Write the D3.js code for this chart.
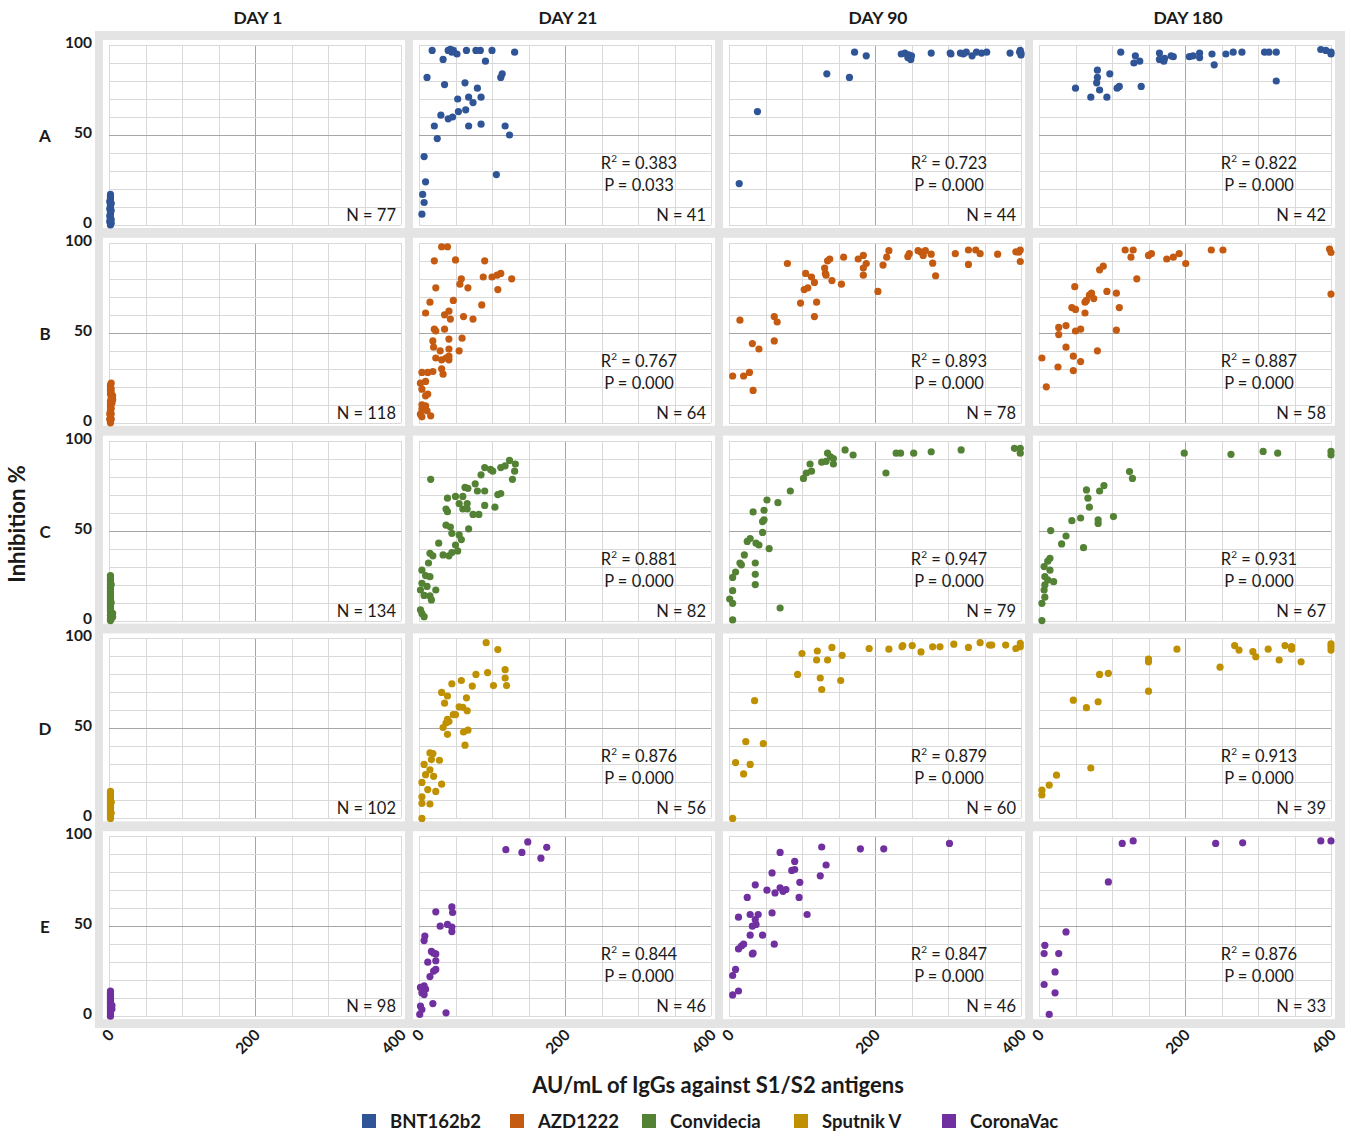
<!DOCTYPE html>
<html>
<head>
<meta charset="utf-8">
<script src="https://cdn.jsdelivr.net/npm/d3@7"></script>
<style>
  body { margin: 0; background: #fff; }
  svg text { font-family: Lato, "Open Sans", sans-serif; fill: #1a1a1a; }
  .grid line { stroke: #d9d9d9; stroke-width: 1; shape-rendering: crispEdges; }
  .grid line.major { stroke: #a6a6a6; }
  .grid path { display: none; }
  .bold { font-weight: bold; }
</style>
</head>
<body>
<svg id="chart" width="1357" height="1134"></svg>
<script>
// rows / columns
const days = ["DAY 1", "DAY 21", "DAY 90", "DAY 180"];
const rowLabels = ["A", "B", "C", "D", "E"];
const vaccines = ["BNT162b2", "AZD1222", "Convidecia", "Sputnik V", "CoronaVac"];
const colors = ["#2f5597", "#c55a11", "#548235", "#bf9000", "#7030a0"];
const xTicks = [0, 200, 400];
const yTicks = [0, 50, 100];

const nCounts = [[77, 41, 44, 42], [118, 64, 78, 58], [134, 82, 79, 67], [102, 56, 60, 39], [98, 46, 46, 33]];
const r2Values = [[null, "0.383", "0.723", "0.822"], [null, "0.767", "0.893", "0.887"], [null, "0.881", "0.947", "0.931"], [null, "0.876", "0.879", "0.913"], [null, "0.844", "0.847", "0.876"]];
const pValues = [[null, "0.033", "0.000", "0.000"], [null, "0.000", "0.000", "0.000"], [null, "0.000", "0.000", "0.000"], [null, "0.000", "0.000", "0.000"], [null, "0.000", "0.000", "0.000"]];

// BNT162b2
const bntD1 = [[2,0],[2,1],[1,2],[2,3],[2,4],[1,5],[2,6],[2,7],[2,8],[1,9],[2,10],[2,11],[2,12],[1,13],[2,14],[2,15],[2,16],[2,17],[3,1],[3,3],[3,8],[3,12]];
const bntD21 = [[18,97],[40,97],[43,97.6],[47,97],[52,95],[65,97],[78,97],[84,97],[100,97],[131,96],[33,92],[91,91],[11,82],[112,82],[114,84],[35,78],[63,79],[80,76],[53,70],[68,71],[74,68],[85,71],[54,63],[64,64],[30,61],[40,59],[46,60],[21,55],[68,55],[85,56],[118,55],[124,50],[25,48],[7,38],[106,28],[9,24],[5,17],[7,12.5],[4,6],[41,97],[45,96]];
const bntD90 = [[14,23],[39,63],[134,84],[165,82],[172,96],[188,94],[236,95],[241,95.5],[245,93],[249,92],[250,94],[277,95.5],[303,95.5],[304,95],[317,95.5],[321,95],[325,96],[333,94],[339,96],[346,95.5],[353,96],[385,95.5],[399,97],[400,95.5],[400,94.5],[398,96],[246,94.5]];
const bntD180 = [[50,76],[71,71],[80,86],[80,82],[79,79],[83,75],[93,71],[97,84],[107,76],[110,77],[112,96],[130,90],[132,94],[138,91],[140,77],[165,95.5],[165,92],[171,91],[172,92.6],[181,94],[184,93.5],[206,93.5],[211,94],[220,95.5],[220,93],[237,95],[240,89],[256,95],[266,96],[278,96],[309,96],[315,96],[325,96],[325,80],[386,97.5],[393,97],[400,96],[400,95]];

// AZD1222
const azdD1 = [[2,0],[2,1],[3,2],[2,3],[2,4],[3,5],[2,6],[2,7],[3,8],[2,9],[2,10],[4,11],[2,12],[5,13],[3,14],[5,15],[2,16],[3,17],[2,18],[3,19],[2,20],[2,21],[3,22],[4,12],[4,14],[1,2],[1,5]];
const azdD21 = [[31,97.8],[39,97.8],[21,90],[50,90.5],[90,90],[23,75],[58,80],[56,77],[67,75],[88,81],[100,81],[107,82],[112,83],[127,80],[108,74],[15,67],[9,61],[35,60],[41,62],[47,68],[43,57.6],[61,59],[74,57.6],[86,65.5],[21,52],[23,51],[35,52],[59,47],[19,45.5],[41,46.5],[20,42],[29,40],[41,41],[55,40],[23,36],[31,35],[37,36],[41,35],[41,37],[31,30],[33,27],[4,28],[12,28],[19,28.5],[9,23],[2,22],[4,18.7],[12,16],[9,15],[4,10],[9,9.4],[4,7.6],[11,6.7],[2,4.8],[16,3.9],[4,3.3]];
const azdD90 = [[15,57],[5,26],[20,26],[28,28],[33,18],[32,44],[41,41],[62,45.5],[62,59],[66,56],[80,88.5],[98,66.5],[103,74],[108,75],[105,83],[113,81],[117,78],[120,67],[117,59],[131,86],[135,90],[138,91],[132,83],[133,82],[141,79],[154,77],[157,92],[177,91],[184,93],[188,88.5],[184,82],[184,86],[204,73],[211,87.6],[216,92],[219,95.6],[245,92.4],[247,94],[259,95.6],[263,94.8],[266,93],[269,95.6],[277,93.7],[279,88.7],[283,81.7],[310,94],[328,96],[328,88],[338,96],[344,94],[368,93.7],[393,95],[399,96],[399,89.6],[397,94.8]];
const azdD180 = [[10,20],[4,36],[26,31],[37,42],[27,49],[27,53],[37,54],[47,29],[47,37],[57,34],[50,51],[57,52],[45,64],[50,63],[63,61],[63,67],[69,71],[72,72],[75,69],[65,68],[49,75.6],[80,40],[93,73],[106,72],[110,64],[106,51.5],[83,85],[88,87],[118,96],[129,96],[126,92],[134,80],[150,93],[154,94],[175,91],[184,92],[192,94],[201,88.5],[236,96],[252,96],[398,96.5],[400,94.6],[400,71.5]];

// Convidecia
const conD1 = [[2,0],[2,1],[5,2],[2,3],[5,4],[2,5],[2,6],[2,7],[2,8],[2,9],[2,10],[2,11],[2,12],[2,13],[2,14],[2,15],[2,16],[2,17],[2,18],[2,19],[2,20],[2,21],[2,22],[2,23],[2,24],[2,25],[3,1],[3,10],[3,20]];
const conD21 = [[16,78.5],[90,85],[98,84],[101,83],[112,85],[118,86],[124,89],[132,87],[131,83],[128,78.5],[85,81],[77,76],[67,73.5],[63,74],[80,72],[90,72],[108,70],[112,70.6],[39,68],[50,69],[60,69],[55,65],[66,65],[90,64],[104,63],[60,62],[66,62],[74,59],[82,59],[37,62],[39,60.5],[37,53],[43,52],[45,48.5],[68,51],[55,47.6],[58,45],[50,42],[53,38.7],[45,37.8],[33,36.5],[41,36],[27,43],[15,37.4],[19,36],[13,32],[4,28],[9,25],[15,24.4],[4,20.7],[11,19],[2,17],[23,17],[15,13.7],[7,14],[2,6],[7,2.2],[4,4],[17,11.5]];
const conD90 = [[5,0.4],[5,9.6],[1,12],[5,16.6],[5,24],[9,27],[17,31],[15,32],[21,36.5],[25,44],[29,45.6],[37,43],[36,32],[36,25.7],[36,20],[41,42],[46,49],[46,55],[48,56],[33,60.4],[48,61.3],[52,67],[55,40],[67,65.5],[70,7],[84,72],[102,79],[106,82],[111,87],[113,83],[127,88],[133,88.5],[139,91],[143,87],[143,90],[159,94.8],[170,92],[135,93],[215,82],[229,93],[235,93],[253,93],[277,93.8],[318,94.8],[391,95.7],[399,95.7],[399,93]];
const conD180 = [[4,0],[4,9.6],[8,13],[7,17],[8,19.8],[12,22.6],[8,24.4],[20,21.6],[15,28],[12,33],[15,34.6],[7,30],[31,42.6],[16,50],[37,47],[61,40.5],[45,55.5],[57,57],[81,56],[81,54],[102,57.8],[69,63],[67,68],[65,72.6],[83,72],[89,75],[124,82.8],[128,79],[199,93],[263,92.4],[307,94],[327,93],[400,94],[400,92]];

// Sputnik V
const spuD1 = [[2,0],[2,1],[2,2],[2,3],[2,4],[2,5],[2,6],[2,7],[2,8],[2,9],[2,10],[2,11],[2,12],[2,13],[2,14],[2,15],[3,3],[3,9]];
const spuD21 = [[92,97.6],[108,93.8],[118,82.6],[118,78],[120,73.8],[102,73.8],[94,81],[78,80],[73,73.5],[58,76.6],[45,74.8],[31,70],[39,68],[35,64],[65,67],[60,61.7],[55,62],[66,59.8],[47,57.6],[50,57.6],[39,55],[37,53],[41,53.8],[33,50.5],[39,46.7],[61,48],[67,49],[63,40.7],[15,36.4],[19,36],[17,32.7],[28,32.3],[7,30],[15,27],[9,24.3],[20,23.4],[4,20],[31,19],[12,16],[23,15],[4,12],[4,8.4],[15,8],[4,0]];
const spuD90 = [[5,0],[9,31],[20,24.7],[29,30],[23,42.6],[47,41.5],[35,65.4],[94,80],[100,91.6],[121,93],[120,88],[125,78],[127,71.6],[135,88],[141,95],[155,90.6],[153,76.6],[192,94.4],[219,94],[237,95.3],[238,96],[251,96],[263,92.5],[279,95.3],[289,95.3],[308,96.8],[328,95],[344,97.6],[357,96.3],[360,96.3],[379,96.3],[393,94.4],[399,97.2],[399,95.3]];
const spuD180 = [[4,13],[4,15.7],[14,18.5],[24,24],[71,28],[47,65.7],[65,61.5],[81,64.8],[83,80],[95,80.6],[150,70.7],[150,87],[150,88.5],[189,94],[248,84],[268,96],[274,93.5],[293,92.6],[297,89.8],[314,94],[329,88],[337,96],[346,95.4],[346,94],[359,87],[400,97],[400,95.4],[400,93.5]];

// CoronaVac
const corD1 = [[2,0],[2,1],[2,2],[2,3],[2,4],[2,5],[2,6],[2,7],[2,8],[2,9],[2,10],[2,11],[2,12],[2,13],[2,14],[4,6],[4,4]];
const corD21 = [[119,92.5],[141,91],[149,96.8],[167,87.8],[175,93.8],[23,58],[45,60.7],[46,57.6],[29,50],[39,51],[45,49.5],[45,47],[8,44.5],[7,42],[17,36],[23,34.6],[20,35],[12,30],[23,30.8],[23,26],[20,25],[15,22],[7,16.8],[9,15],[2,16],[4,13],[7,12],[19,7],[2,5.6],[4,3.7],[37,1.9],[1,1]];
const corD90 = [[5,11.8],[13,14],[5,22.6],[9,26],[13,37.4],[17,39],[20,40],[32,34.6],[33,35],[29,45],[46,45],[62,40],[32,50],[37,51],[36,53.7],[40,56.5],[13,55],[29,56.5],[59,57.4],[107,56.5],[25,66],[52,70],[63,68.5],[74,69.4],[70,71.3],[78,70.4],[96,66],[36,73],[97,74.4],[59,79.6],[86,81],[90,81.5],[90,86],[125,78],[133,84],[70,91],[127,94],[180,93],[212,93],[302,96]];
const corD180 = [[14,1],[22,13],[7,17.6],[22,24.6],[7,34.8],[27,34.8],[8,39.4],[37,46.8],[95,74.6],[114,96],[129,97.4],[242,96],[279,96.3],[386,97.4],[400,97.4]];

const panels = [
  [bntD1, bntD21, bntD90, bntD180],
  [azdD1, azdD21, azdD90, azdD180],
  [conD1, conD21, conD90, conD180],
  [spuD1, spuD21, spuD90, spuD180],
  [corD1, corD21, corD90, corD180]
];

const svg = d3.select("#chart");
const plotW = 292, plotH = 180;
const colLeft = c => 109 + c * 310;
const rowTop = r => 45 + r * 197.8;

const x = d3.scaleLinear().domain([0, 400]).range([0, plotW]);
const y = d3.scaleLinear().domain([0, 100]).range([plotH, 0]);

// grey frame behind the panels
svg.append("rect")
  .attr("x", 95).attr("y", 31)
  .attr("width", 1250).attr("height", 997)
  .attr("fill", "#e4e4e4");

panels.forEach((row, r) => {
  row.forEach((pts, c) => {
    const g = svg.append("g")
      .attr("transform", "translate(" + colLeft(c) + "," + rowTop(r) + ")");

    g.append("rect")
      .attr("x", -6).attr("y", -5)
      .attr("width", plotW + 10).attr("height", plotH + 8)
      .attr("fill", "#fff");

    // grid lines
    g.append("g").attr("class", "grid")
      .call(d3.axisBottom(x).tickValues(d3.range(0, 401, 50)).tickSize(plotH).tickFormat(""))
      .selectAll("line").classed("major", d => d === 200);
    g.append("g").attr("class", "grid")
      .call(d3.axisLeft(y).tickValues(d3.range(0, 101, 10)).tickSize(-plotW).tickFormat(""))
      .selectAll("line").classed("major", d => d === 50);

    g.selectAll("circle")
      .data(pts)
      .join("circle")
      .attr("cx", d => x(d[0]))
      .attr("cy", d => y(d[1]))
      .attr("r", 3.6)
      .attr("fill", colors[r]);

    if (r2Values[r][c]) {
      const t = g.append("text")
        .attr("x", 220).attr("y", 124)
        .attr("text-anchor", "middle")
        .style("font-size", "16.5px");
      t.append("tspan").text("R");
      t.append("tspan").text("2").attr("dy", -7).style("font-size", "10px");
      t.append("tspan").text(" = " + r2Values[r][c]).attr("dy", 7);
      g.append("text")
        .attr("x", 220).attr("y", 146)
        .attr("text-anchor", "middle")
        .style("font-size", "16.5px")
        .text("P = " + pValues[r][c]);
    }
    g.append("text")
      .attr("x", 287).attr("y", plotH - 4)
      .attr("text-anchor", "end")
      .style("font-size", "16.5px")
      .text("N = " + nCounts[r][c]);
  });

  // y ticks and row label
  const top = rowTop(r);
  svg.selectAll(null)
    .data(yTicks)
    .join("text")
    .attr("class", "bold")
    .attr("x", 92)
    .attr("y", d => top + y(d) + 3)
    .attr("text-anchor", "end")
    .style("font-size", "15.5px")
    .text(d => d);
  svg.append("text")
    .attr("class", "bold")
    .attr("x", 45).attr("y", top + 97)
    .attr("text-anchor", "middle")
    .style("font-size", "17px")
    .text(rowLabels[r]);
});

// column headers
days.forEach((d, c) => {
  svg.append("text")
    .attr("class", "bold")
    .attr("x", colLeft(c) + 149).attr("y", 24)
    .attr("text-anchor", "middle")
    .style("font-size", "17.5px")
    .text(d);

  svg.selectAll(null)
    .data(xTicks)
    .join("text")
    .attr("class", "bold")
    .attr("text-anchor", "end")
    .attr("transform", v => "translate(" + (colLeft(c) + x(v) + 6) + ",1036) rotate(-45)")
    .style("font-size", "15.5px")
    .text(v => v);
});

// axis titles
svg.append("text")
  .attr("class", "bold")
  .attr("x", 718).attr("y", 1093)
  .attr("text-anchor", "middle")
  .style("font-size", "22px")
  .text("AU/mL of IgGs against S1/S2 antigens");

svg.append("text")
  .attr("class", "bold")
  .attr("transform", "translate(25,524) rotate(-90)")
  .attr("text-anchor", "middle")
  .style("font-size", "22px")
  .text("Inhibition %");

// legend
const legendX = [362, 510, 642, 794, 942];
const legend = svg.selectAll(".legend")
  .data(vaccines)
  .join("g")
  .attr("class", "legend")
  .attr("transform", (d, i) => "translate(" + legendX[i] + ",1114)");
legend.append("rect")
  .attr("width", 14).attr("height", 14)
  .attr("fill", (d, i) => colors[i]);
legend.append("text")
  .attr("class", "bold")
  .attr("x", 28).attr("y", 14)
  .style("font-size", "18.5px")
  .text(d => d);
</script>
</body>
</html>
